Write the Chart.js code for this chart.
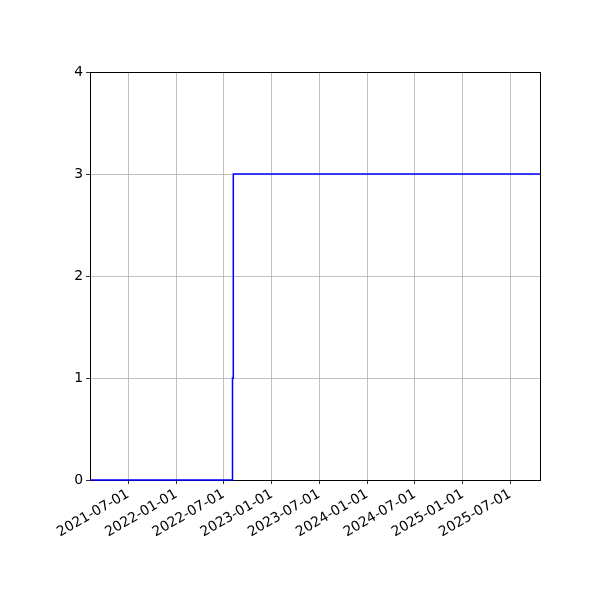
<!DOCTYPE html>
<html>
<head>
<meta charset="utf-8">
<script src="https://cdn.jsdelivr.net/npm/chart.js@4"></script>
<style>
html, body { margin: 0; padding: 0; background: #fff; }
</style>
</head>
<body>
<canvas id="chart" width="600" height="600"></canvas>
<script>
// data
const dates = ['2021-02-05', '2022-08-04', '2022-08-07', '2025-10-23'];
const counts = [0, 1, 3, 3];
const xTickLabels = ['2021-07-01', '2022-01-01', '2022-07-01', '2023-01-01', '2023-07-01',
                     '2024-01-01', '2024-07-01', '2025-01-01', '2025-07-01'];
const yTickLabels = [0, 1, 2, 3, 4];

const pad = { top: 72, right: 60, bottom: 0, left: 10 };
const font = { family: 'DejaVu Sans', size: 13.9 };

// full box around the plot, like matplotlib spines
const frame = {
    id: 'frame',
    beforeDatasetsDraw(chart) {
        const a = chart.chartArea;
        const ctx = chart.ctx;
        ctx.save();
        ctx.strokeStyle = '#000';
        ctx.lineWidth = 1;
        ctx.strokeRect(Math.round(a.left) + 0.5, Math.round(a.top) + 0.5,
                       Math.round(a.right - a.left), Math.round(a.bottom - a.top));
        ctx.restore();
    }
};

const points = dates.map((d, i) => ({ x: Date.parse(d), y: counts[i] }));

new Chart(document.getElementById('chart').getContext('2d'), {
    type: 'line',
    data: {
        datasets: [{
            data: points,
            borderColor: '#0000ff',
            borderWidth: 1.5,
            pointRadius: 0,
            stepped: 'before',
            fill: false,
            clip: false
        }]
    },
    options: {
        responsive: false,
        animation: false,
        devicePixelRatio: 1,
        layout: { padding: pad },
        plugins: { legend: { display: false }, tooltip: { enabled: false } },
        scales: {
            x: {
                type: 'linear',
                min: points[0].x,
                max: points[points.length - 1].x,
                afterBuildTicks: s => { s.ticks = xTickLabels.map(d => ({ value: Date.parse(d) })); },
                afterFit: s => { s.height = 600 - 480 - pad.bottom; },
                ticks: {
                    autoSkip: false,
                    minRotation: 30,
                    maxRotation: 30,
                    padding: 2,
                    color: '#000',
                    font: font,
                    callback: v => new Date(v).toISOString().slice(0, 10)
                },
                grid: { color: '#b0b0b0', lineWidth: 0.8, tickColor: '#000', tickLength: 4 },
                border: { color: '#000', width: 1 }
            },
            y: {
                min: 0,
                max: 4,
                afterBuildTicks: s => { s.ticks = yTickLabels.map(v => ({ value: v })); },
                afterFit: s => { s.width = 90 - pad.left; },
                ticks: { color: '#000', font: font, padding: 3 },
                grid: { color: '#b0b0b0', lineWidth: 0.8, tickColor: '#000', tickLength: 4 },
                border: { color: '#000', width: 1 }
            }
        }
    },
    plugins: [frame]
});
</script>
</body>
</html>
